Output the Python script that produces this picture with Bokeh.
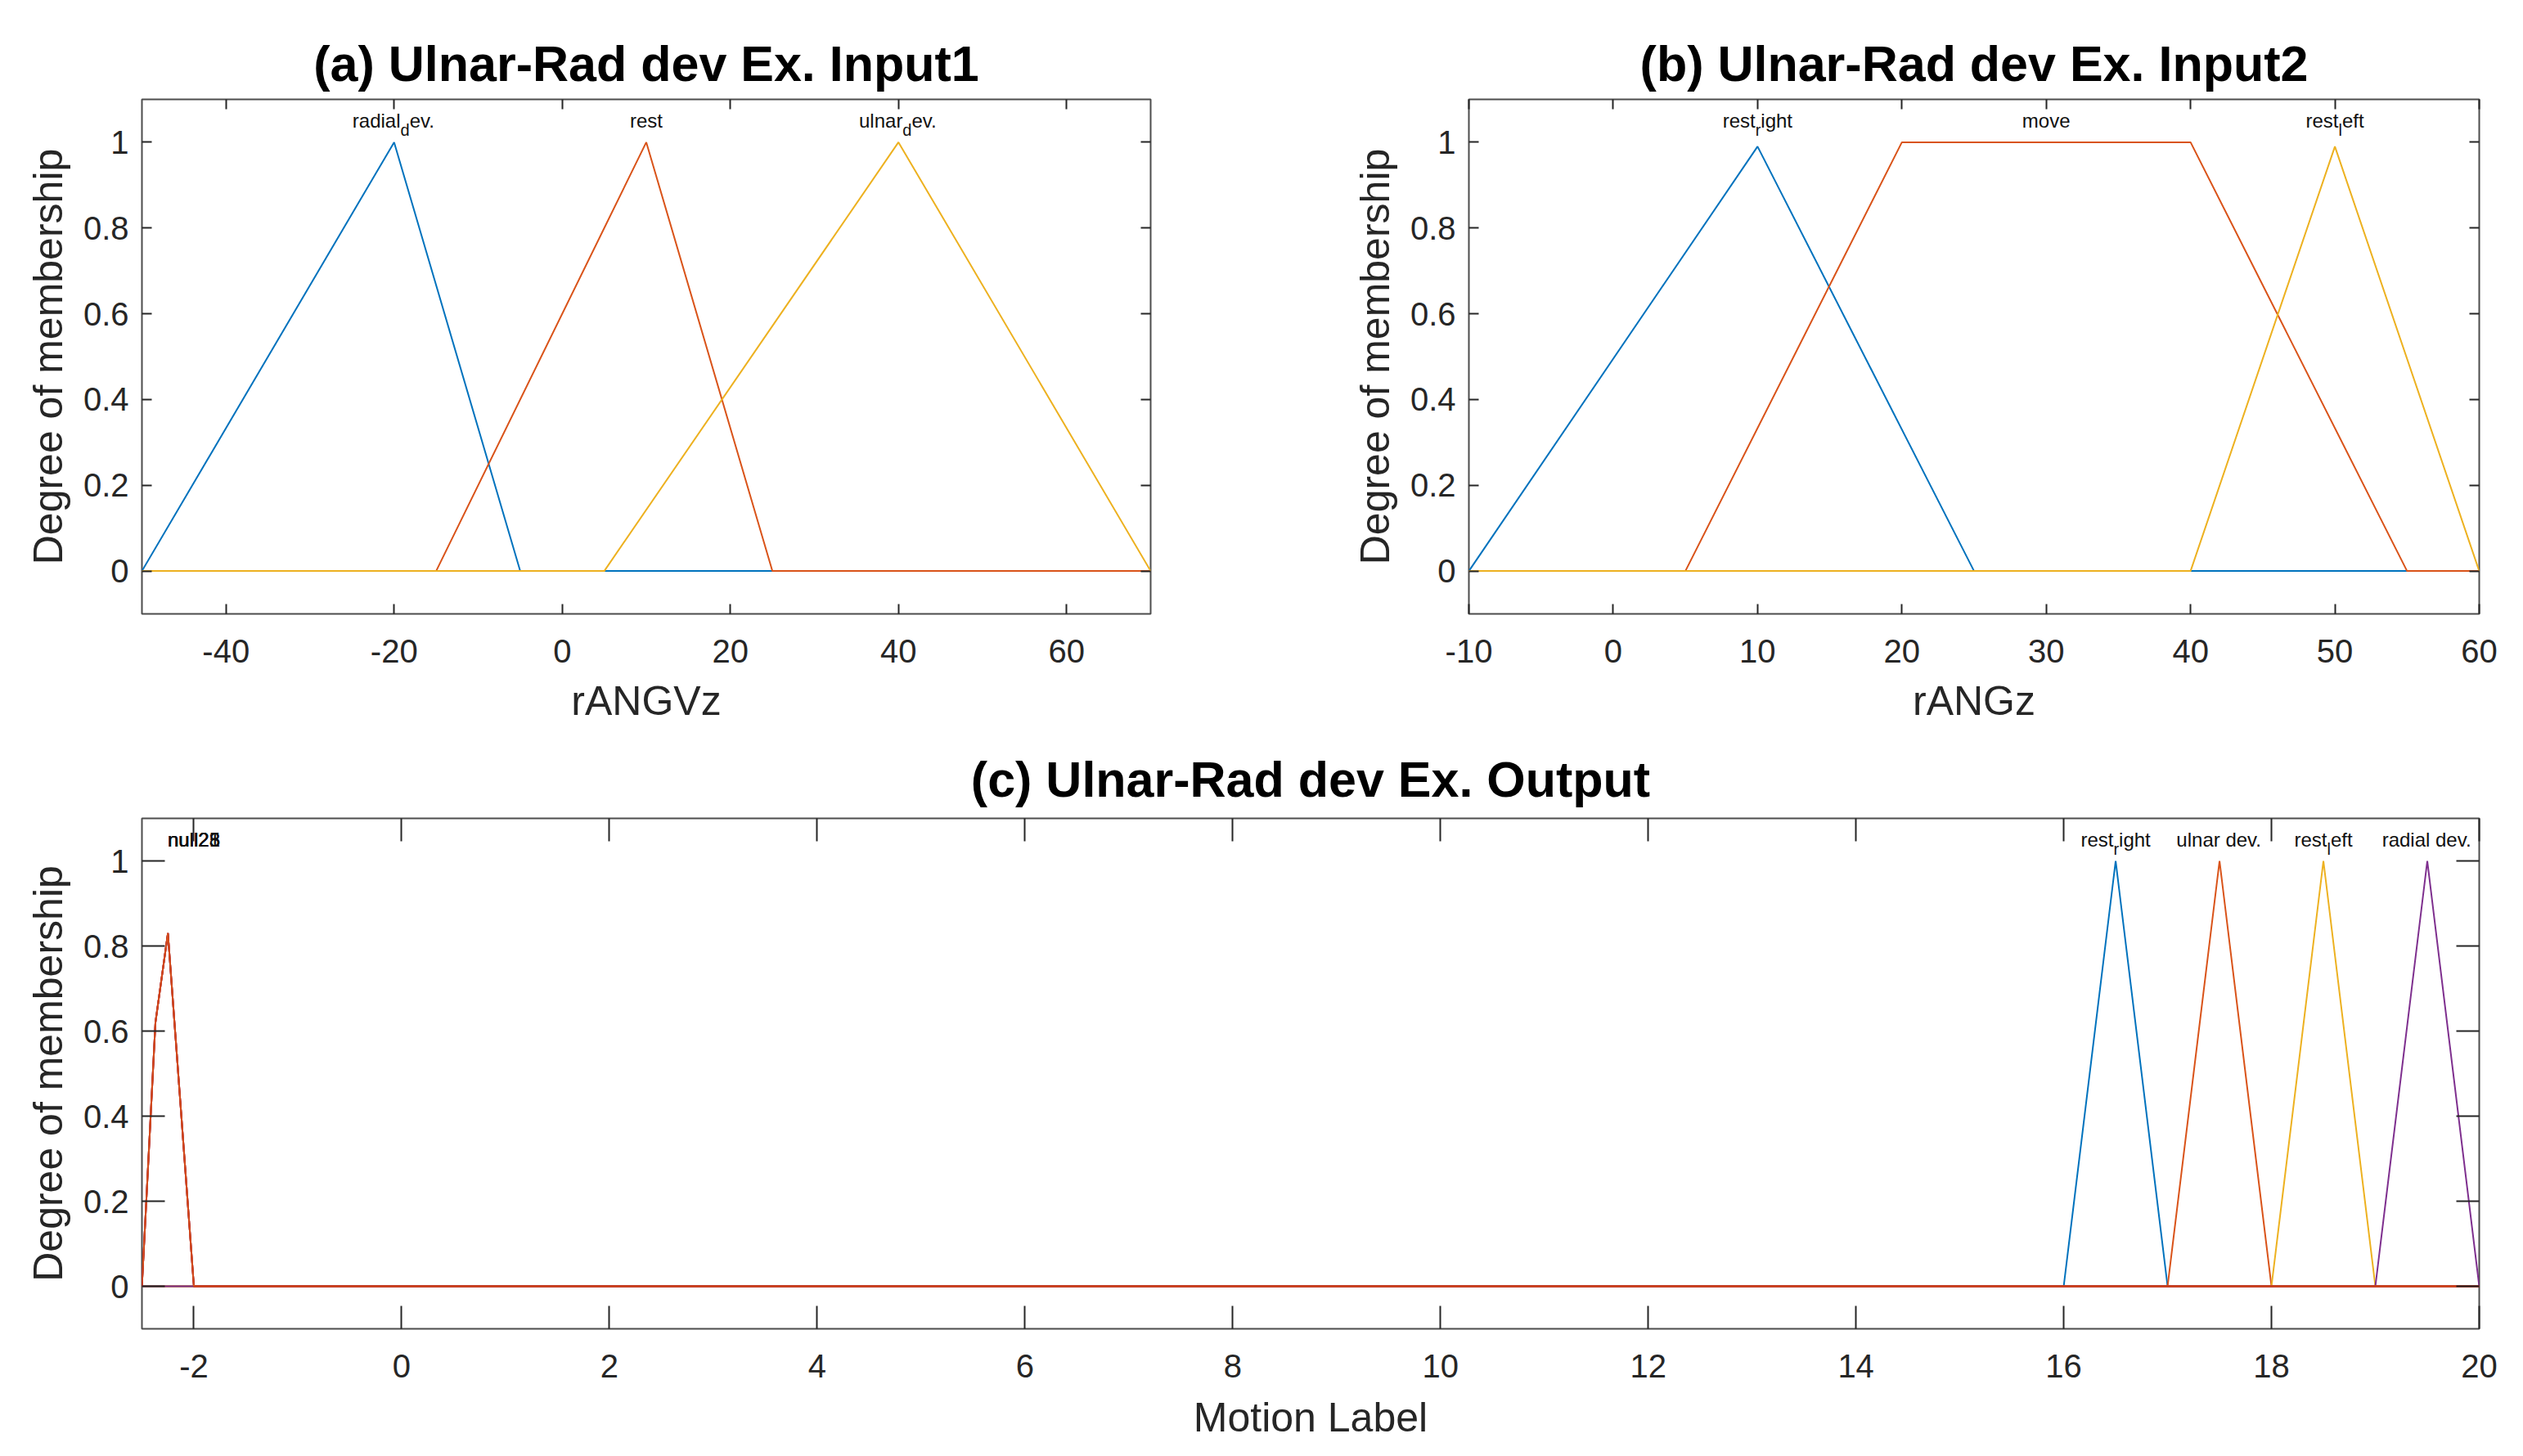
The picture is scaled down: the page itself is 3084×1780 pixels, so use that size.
from bokeh.plotting import figure
from bokeh.layouts import column, row
from bokeh.models import LinearAxis, FixedTicker, ColumnDataSource, Range1d
from bokeh.core.properties import value
from bokeh.embed import file_html
from bokeh.resources import INLINE

# ---------------- data ----------------
# (a) Input1 : rANGVz
a_names = ["radial_dev.", "rest", "ulnar_dev."]
a_xs = [[-50, -20, -5, 70], [-50, -15, 10, 25, 70], [-50, 5, 40, 70]]
a_ys = [[0, 1, 0, 0], [0, 0, 1, 0, 0], [0, 0, 1, 0]]
a_label_x = [-20, 10, 40]
a_xticks = [-40, -20, 0, 20, 40, 60]

# (b) Input2 : rANGz
b_names = ["rest_right", "move", "rest_left"]
b_xs = [[-10, 10, 25, 60], [-10, 5, 20, 40, 55, 60], [-10, 40, 50, 60]]
b_ys = [[0, 0.99, 0, 0], [0, 0, 1, 1, 0, 0], [0, 0, 0.99, 0]]
b_label_x = [10, 30, 50]
b_xticks = [-10, 0, 10, 20, 30, 40, 50, 60]

# (c) Output : Motion Label
c_names = ["rest_right", "ulnar dev.", "rest_left", "radial dev."]
c_xs = [[-2.5, 16, 16.5, 17, 20], [-2.5, 17, 17.5, 18, 20],
        [-2.5, 18, 18.5, 19, 20], [-2.5, 19, 19.5, 20]]
c_ys = [[0, 0, 1, 0, 0], [0, 0, 1, 0, 0], [0, 0, 1, 0, 0], [0, 0, 1, 0]]
c_label_x = [16.5, 17.5, 18.5, 19.5]
null_names = ["null21", "null23", "null25", "null28"]
null_x = [-2.5, -2.37, -2.25, -2.0, 20]
null_y = [0, 0.62, 0.83, 0, 0]
null_label_x = -2.0
c_xticks = [-2, 0, 2, 4, 6, 8, 10, 12, 14, 16, 18, 20]

y_ticks = [0, 0.2, 0.4, 0.6, 0.8, 1]
y_tick_labels = ["0", "0.2", "0.4", "0.6", "0.8", "1"]
label_y = 1.05

COLORS = ["#0072BD", "#D95319", "#EDB120", "#7E2F8E"]
FONT = "Liberation Sans"
TXT = "#262626"

# Arial / Liberation Sans advance widths (em)
W = {'a': .556, 'b': .556, 'c': .5, 'd': .556, 'e': .556, 'f': .278, 'g': .556, 'h': .556,
     'i': .222, 'j': .222, 'k': .5, 'l': .222, 'm': .833, 'n': .556, 'o': .556, 'p': .556,
     'q': .556, 'r': .333, 's': .5, 't': .278, 'u': .556, 'v': .5, 'w': .722, 'x': .5,
     'y': .5, 'z': .5, ' ': .278, '.': .278}
for d in "0123456789":
    W[d] = .556

LS = 24.0   # label font px
SS = 20.0   # subscript font px


def tw(s, size):
    return sum(W.get(ch, .556) for ch in s) * size


def label_parts(name):
    """Split a MATLAB TeX-like name into (text, is_sub) parts."""
    parts = []
    buf = ""
    i = 0
    while i < len(name):
        ch = name[i]
        if ch == "_" and i + 1 < len(name):
            if buf:
                parts.append((buf, False))
                buf = ""
            parts.append((name[i + 1], True))
            i += 2
            continue
        buf += ch
        i += 1
    if buf:
        parts.append((buf, False))
    return parts


def add_labels(p, names, xs):
    src = dict(x=[], y=[], text=[], xo=[], yo=[], fs=[])
    for name, x in zip(names, xs):
        parts = label_parts(name)
        widths = [tw(t, SS if sub else LS) for t, sub in parts]
        total = sum(widths)
        cur = -total / 2.0
        for (t, sub), w in zip(parts, widths):
            src["x"].append(x)
            src["y"].append(label_y)
            src["text"].append(t)
            src["xo"].append(cur)
            src["yo"].append(11 if sub else 0)
            src["fs"].append("%dpx" % (SS if sub else LS))
            cur += w
    p.text(x="x", y="y", text="text", x_offset="xo", y_offset="yo",
           text_font_size="fs", source=ColumnDataSource(src),
           text_font=value(FONT), text_color="#111111",
           text_align="left", text_baseline="middle")


def make_fig(width, height, xr, xticks, xlabel, title, mbl, mbr, mbt, mbb, ticklen,
             title_standoff, xlab_standoff):
    p = figure(width=width, height=height, x_range=Range1d(*xr), y_range=Range1d(-0.1, 1.1),
               output_backend="svg", toolbar_location=None,
               min_border_left=mbl, min_border_right=mbr,
               min_border_top=mbt, min_border_bottom=mbb)
    p.xgrid.visible = False
    p.ygrid.visible = False
    p.outline_line_color = "#4d4d4d"
    p.outline_line_width = 2
    p.background_fill_color = "white"
    p.border_fill_color = "white"

    p.title.text = title
    p.title.align = "center"
    p.title.text_font = FONT
    p.title.text_font_size = "61px"
    p.title.text_font_style = "bold"
    p.title.text_color = "#000000"
    p.title.standoff = title_standoff

    xa = p.xaxis[0]
    xa.ticker = FixedTicker(ticks=xticks)
    xa.major_label_overrides = {t: str(t) for t in xticks}
    xa.axis_label = xlabel
    ya = p.yaxis[0]
    ya.ticker = FixedTicker(ticks=y_ticks)
    ya.major_label_overrides = dict(zip(y_ticks, y_tick_labels))
    ya.axis_label = "Degree of membership"
    for ax in (xa, ya):
        ax.axis_line_color = None
        ax.major_tick_in = ticklen
        ax.major_tick_out = 0
        ax.major_tick_line_color = "#262626"
        ax.major_tick_line_width = 2
        ax.minor_tick_line_color = None
        ax.major_label_text_font = FONT
        ax.major_label_text_font_size = "40px"
        ax.major_label_text_color = TXT
        ax.axis_label_text_font = FONT
        ax.axis_label_text_font_size = "50px"
        ax.axis_label_text_font_style = "normal"
        ax.axis_label_text_color = TXT
    xa.major_label_standoff = 31
    xa.axis_label_standoff = xlab_standoff
    ya.major_label_standoff = 16
    ya.axis_label_standoff = 12

    top = LinearAxis(ticker=FixedTicker(ticks=xticks), major_label_text_font_size="1px",
                     major_label_text_color=None,
                     major_label_standoff=0, major_tick_in=ticklen, major_tick_out=0,
                     major_tick_line_color="#262626", major_tick_line_width=2,
                     minor_tick_line_color=None, axis_line_color=None)
    right = LinearAxis(ticker=FixedTicker(ticks=y_ticks), major_label_text_font_size="1px",
                       major_label_text_color=None,
                       major_label_standoff=0, major_tick_in=ticklen, major_tick_out=0,
                       major_tick_line_color="#262626", major_tick_line_width=2,
                       minor_tick_line_color=None, axis_line_color=None)
    p.add_layout(top, "above")
    p.add_layout(right, "right")
    return p


# ---------------- (a) ----------------
pa = make_fig(1600, 900, (-50, 70), a_xticks, "rANGVz", "(a) Ulnar-Rad dev Ex. Input1",
              173, 194, 121, 150, 12, 19, 16)
for xs, ys, col in zip(a_xs, a_ys, COLORS):
    pa.line(xs, ys, line_color=col, line_width=2)
add_labels(pa, a_names, a_label_x)

# ---------------- (b) ----------------
pb = make_fig(1476, 900, (-10, 60), b_xticks, "rANGz", "(b) Ulnar-Rad dev Ex. Input2",
              195, 46, 121, 150, 12, 19, 16)
for xs, ys, col in zip(b_xs, b_ys, COLORS):
    pb.line(xs, ys, line_color=col, line_width=2)
add_labels(pb, b_names, b_label_x)

# ---------------- (c) ----------------
pc = make_fig(3076, 872, (-2.5, 20), c_xticks, "Motion Label", "(c) Ulnar-Rad dev Ex. Output",
              173, 46, 100, 148, 28, 28, 18)
for xs, ys, col in zip(c_xs, c_ys, COLORS):
    pc.line(xs, ys, line_color=col, line_width=2)
for i, nm in enumerate(null_names):
    if i < len(null_names) - 1:
        pc.line(null_x, null_y, line_color="#A2142F", line_width=2)
    else:
        pc.line(null_x, null_y, line_color="#D95319", line_width=2, line_alpha=0.92)
add_labels(pc, null_names, [null_label_x] * len(null_names))
add_labels(pc, c_names, c_label_x)

layout = column(row(pa, pb), pc)
open("out.html", "w").write(file_html(layout, INLINE))
